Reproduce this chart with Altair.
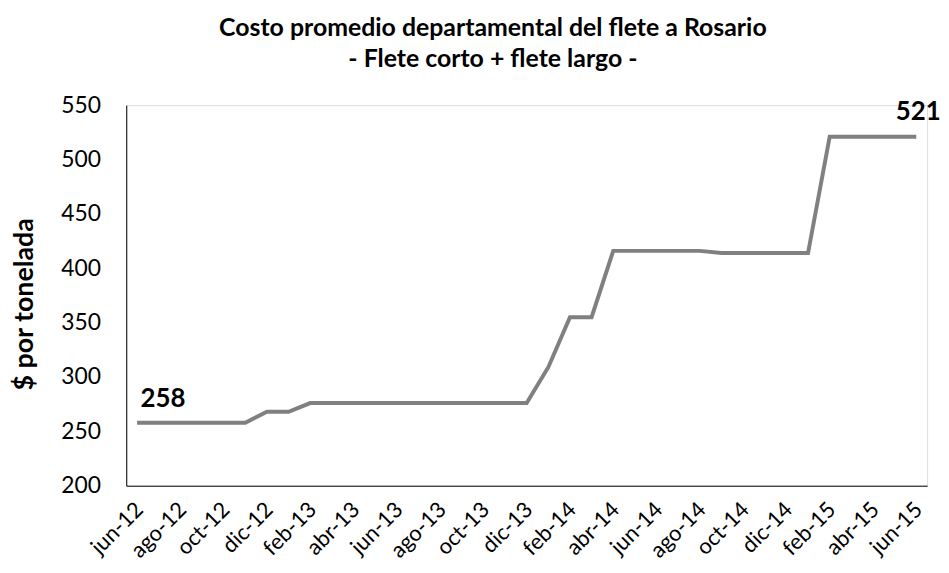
import altair as alt
import pandas as pd

months = ["jun-12", "jul-12", "ago-12", "sep-12", "oct-12", "nov-12", "dic-12",
          "ene-13", "feb-13", "mar-13", "abr-13", "may-13", "jun-13", "jul-13",
          "ago-13", "sep-13", "oct-13", "nov-13", "dic-13", "ene-14", "feb-14",
          "mar-14", "abr-14", "may-14", "jun-14", "jul-14", "ago-14", "sep-14",
          "oct-14", "nov-14", "dic-14", "ene-15", "feb-15", "mar-15", "abr-15",
          "may-15", "jun-15"]
values = [258, 258, 258, 258, 258, 258, 268,
          268, 276, 276, 276, 276, 276, 276,
          276, 276, 276, 276, 276, 309, 355,
          355, 416, 416, 416, 416, 416, 414,
          414, 414, 414, 414, 521, 521, 521,
          521, 521]
tick_labels = months[::2]

df = pd.DataFrame({"mes": months, "costo": values})
first = pd.DataFrame({"mes": [months[0]], "costo": [values[0]]})
last = pd.DataFrame({"mes": [months[-1]], "costo": [values[-1]]})

FONT = "Lato"

x = alt.X("mes:O", sort=months,
          scale=alt.Scale(type="point", padding=0.5),
          axis=alt.Axis(title=None, values=tick_labels, labelAngle=-45,
                        labelAlign="right", labelBaseline="middle",
                        labelPadding=20, labelOffset=2, ticks=False,
                        domainColor="black",
                        labelFontSize=22, labelColor="black", labelFont=FONT))
y = alt.Y("costo:Q",
          scale=alt.Scale(domain=[200, 550], nice=False, zero=False),
          axis=alt.Axis(title="$ por tonelada", values=list(range(200, 551, 50)),
                        ticks=False, grid=False, labelPadding=26,
                        domainColor="black", labelFontSize=23, labelColor="black",
                        labelFont=FONT, titleFont=FONT, titleFontSize=27,
                        titleFontWeight="bold", titleColor="black",
                        titlePadding=22, titleY=200))

line = alt.Chart(df).mark_line(color="#808080", strokeWidth=4).encode(x=x, y=y)

lab1 = alt.Chart(first).mark_text(font=FONT, fontSize=26, fontWeight="bold",
                                  baseline="alphabetic", align="center",
                                  dx=26, dy=-16, color="black").encode(
    x=alt.X("mes:O", sort=months), y="costo:Q", text="costo:Q")
lab2 = alt.Chart(last).mark_text(font=FONT, fontSize=26, fontWeight="bold",
                                 baseline="alphabetic", align="center",
                                 dx=2, dy=-17, color="black").encode(
    x=alt.X("mes:O", sort=months), y="costo:Q", text="costo:Q")

chart = alt.layer(line, lab1, lab2).properties(
    width=806, height=383,
    autosize=alt.AutoSizeParams(type="none"),
    padding={"left": 119, "top": 96, "right": 14, "bottom": 78},
    title=alt.TitleParams(
        text=["Costo promedio departamental del flete a Rosario",
              "- Flete corto + flete largo -"],
        font=FONT, fontSize=25, fontWeight="bold", color="black",
        anchor="middle", dx=-34, offset=22, lineHeight=32),
).configure_view(stroke=None).configure(background="white")

chart.save("out.html", embed_options={"renderer": "svg", "actions": False})
